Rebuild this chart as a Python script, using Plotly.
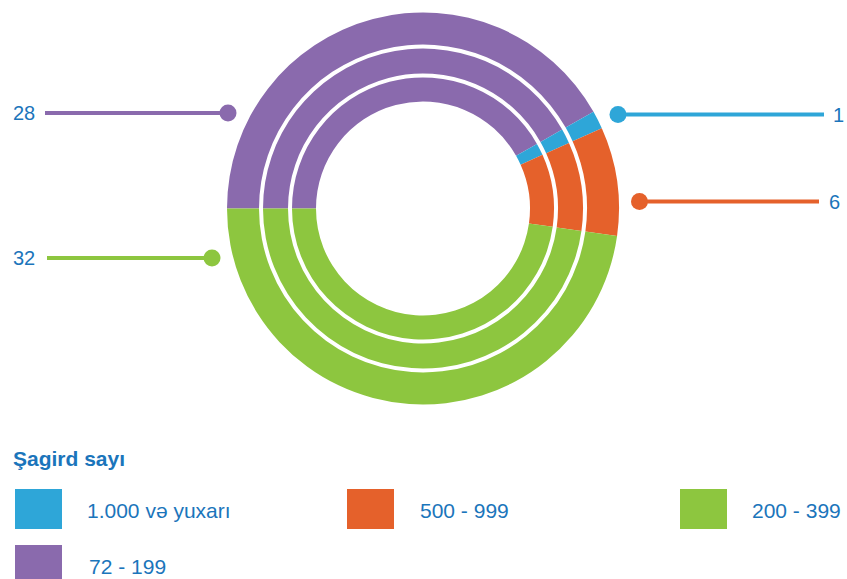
import plotly.graph_objects as go

W, H = 847, 579

# slice data (clockwise from 9 o'clock)
categories = ["72 - 199", "1.000 və yuxarı", "500 - 999", "200 - 399"]
values = [28, 1, 6, 32]
colors = ["#8a6aad", "#2ea6d8", "#e5612b", "#8dc63f"]

# legend order as in the reference
legend_order = ["1.000 və yuxarı", "500 - 999", "200 - 399", "72 - 199"]
legend_title = "Şagird sayı"

TXT = "#1b75bb"
FONT = "Liberation Sans, Arial, sans-serif"

# positions below are in window pixels
cx, cy = 423, 208.5
rings = [(196, 164), (160, 135), (131, 107)]  # (outer, inner) radius in px

fig = go.Figure()
for r_out, r_in in rings:
    fig.add_trace(go.Pie(
        labels=categories, values=values, sort=False, direction="clockwise",
        rotation=-90, hole=r_in / r_out, textinfo="none", hoverinfo="label+value",
        marker=dict(colors=colors, line=dict(width=0)), showlegend=False,
        domain=dict(x=[(cx - r_out) / W, (cx + r_out) / W],
                    y=[1 - (cy + r_out) / H, 1 - (cy - r_out) / H])))

# callouts: (category, line start x, dot x, y, text x)
callouts = [
    ("72 - 199", 45, 228, 113, 24),
    ("200 - 399", 47, 212, 258, 24),
    ("1.000 və yuxarı", 824, 618, 114.5, 838.5),
    ("500 - 999", 819, 639.5, 201.5, 834.5),
]
val_of = dict(zip(categories, values))
col_of = dict(zip(categories, colors))

shapes, annotations = [], []
for cat, x0, xd, y, xt in callouts:
    c = col_of[cat]
    shapes.append(dict(type="line", xref="x", yref="y", x0=x0, x1=xd, y0=y, y1=y,
                       line=dict(color=c, width=4)))
    fig.add_trace(go.Scatter(x=[xd], y=[y], mode="markers", showlegend=False,
                             hoverinfo="skip",
                             marker=dict(color=c, size=17, line=dict(width=0))))
    annotations.append(dict(x=xt, y=y, xref="x", yref="y", text=str(val_of[cat]),
                            showarrow=False, xanchor="center", yanchor="middle",
                            font=dict(size=20, color=TXT, family=FONT)))

# custom legend
annotations.append(dict(x=11, y=458, xref="x", yref="y", text="<b>" + legend_title + "</b>",
                        showarrow=False, xanchor="left", yanchor="middle",
                        font=dict(size=21, color=TXT, family=FONT)))
slots = [(15, 85, 489), (347, 418, 489), (680, 750, 489), (15, 87, 545)]
for cat, (sx, tx, sy) in zip(legend_order, slots):
    shapes.append(dict(type="rect", xref="x", yref="y", x0=sx, x1=sx + 47, y0=sy, y1=sy + 40,
                       fillcolor=col_of[cat], line=dict(width=0)))
    annotations.append(dict(x=tx, y=sy + 21, xref="x", yref="y", text=cat,
                            showarrow=False, xanchor="left", yanchor="middle",
                            font=dict(size=21, color=TXT, family=FONT)))

fig.update_layout(
    width=W, height=H, autosize=False,
    margin=dict(l=0, r=0, t=0, b=0),
    paper_bgcolor="white", plot_bgcolor="rgba(0,0,0,0)",
    xaxis=dict(range=[0, W], visible=False, fixedrange=True),
    yaxis=dict(range=[H, 0], visible=False, fixedrange=True),
    shapes=shapes, annotations=annotations,
    font=dict(family=FONT, color=TXT),
)

# page has a default 8px body margin; drop it so the figure fills the window
fig.write_html("out.html", config={"displayModeBar": False},
               post_script="document.body.style.margin='0';")
